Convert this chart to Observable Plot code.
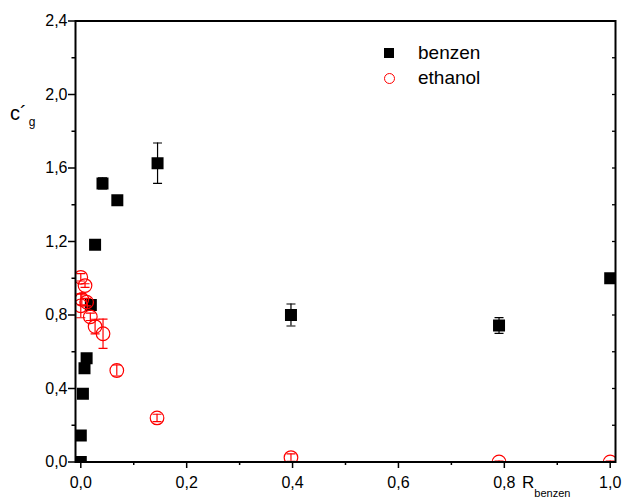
<!DOCTYPE html>
<html>
<head>
<meta charset="utf-8">
<script src="https://cdn.jsdelivr.net/npm/d3@7"></script>
<script src="https://cdn.jsdelivr.net/npm/@observablehq/plot@0.6"></script>
<style>
  html, body { margin: 0; padding: 0; background: #fff; }
  #wrap { position: relative; width: 622px; height: 499px; font-family: "Liberation Sans", Arial, sans-serif; }
  #wrap svg { position: absolute; left: 0; top: 0; }
  .lbl { position: absolute; color: #000; white-space: nowrap; line-height: 1; }
</style>
</head>
<body>
<div id="wrap"></div>
<script>
// ---- data ----
const benzenX   = [0, 0.0, 0.004, 0.007, 0.011, 0.019, 0.027, 0.041, 0.069, 0.145, 0.397, 0.79, 1.0];
const benzenY   = [0, 0.144, 0.371, 0.51, 0.565, 0.855, 1.182, 1.516, 1.425, 1.626, 0.80, 0.743, 1.0];
const benzenErr = [0, 0, 0, 0, 0, 0.025, 0, 0.03, 0.02, 0.11, 0.06, 0.043, 0];

const ethanolX   = [0, 0.008, 0.002, 0.011, 0.0, 0.018, 0.027, 0.042, 0.068, 0.144, 0.397, 0.79, 1.0];
const ethanolY   = [1.005, 0.96, 0.885, 0.87, 0.85, 0.79, 0.737, 0.698, 0.498, 0.24, 0.024, 0.0, 0.0];
const ethanolErr = [0.02, 0.01, 0.03, 0.02, 0.065, 0.02, 0.04, 0.08, 0.03, 0.02, 0.02, 0.005, 0.005];

const xMajorTicks = [0, 0.2, 0.4, 0.6, 0.8, 1.0];
const xMinorTicks = [0.1, 0.3, 0.5, 0.7, 0.9];
const yMajorTicks = [0, 0.4, 0.8, 1.2, 1.6, 2.0, 2.4];
const yMinorTicks = [0.2, 0.6, 1.0, 1.4, 1.8, 2.2];
const seriesNames = ["benzen", "ethanol"];

const toRows = (xs, ys, es) => xs.map((x, i) => ({x, y: ys[i], e: es[i]}));
const benzen = toRows(benzenX, benzenY, benzenErr);
const ethanol = toRows(ethanolX, ethanolY, ethanolErr);
const fmt = d => d.toFixed(1).replace(".", ",");

const capSymbol = {
  draw(context, size) {
    const w = Math.sqrt(size);
    context.moveTo(-w / 2, 0);
    context.lineTo(w / 2, 0);
  }
};
const inwardTick = {
  draw(context, size) {
    const w = Math.sqrt(size);
    context.moveTo(0, 0);
    context.lineTo(-w, 0);
  }
};
const capR = 9 / Math.sqrt(Math.PI);

function errMarks(rows, color) {
  const withErr = rows.filter(d => d.e > 0);
  return [
    Plot.ruleX(withErr, {x: "x", y1: d => d.y - d.e, y2: d => d.y + d.e, stroke: color, strokeWidth: 1.2, clip: true}),
    Plot.dot(withErr, {x: "x", y: d => d.y + d.e, symbol: capSymbol, r: capR, stroke: color, strokeWidth: 1.2, clip: true}),
    Plot.dot(withErr, {x: "x", y: d => d.y - d.e, symbol: capSymbol, r: capR, stroke: color, strokeWidth: 1.2, clip: true})
  ];
}

const chart = Plot.plot({
  width: 622,
  height: 499,
  marginLeft: 75,
  marginRight: 7,
  marginTop: 20.5,
  marginBottom: 37.5,
  style: {fontFamily: "'Liberation Sans', Arial, sans-serif", background: "#fff", color: "#000"},
  x: {domain: [-0.01, 1.01]},
  y: {domain: [0, 2.4]},
  marks: [
    Plot.axisX(xMinorTicks, {anchor: "bottom", label: null, tickSize: 3.5, tickFormat: () => "", strokeWidth: 1.5}),
    Plot.axisX(xMajorTicks, {anchor: "bottom", label: null, tickSize: 6.5, tickPadding: 8, tickFormat: fmt, fontSize: 16, strokeWidth: 1.5}),
    Plot.axisY(yMinorTicks, {anchor: "left", label: null, tickSize: 3.5, tickFormat: () => "", strokeWidth: 1.5}),
    Plot.axisY(yMajorTicks, {anchor: "left", label: null, tickSize: 7, tickPadding: 1, tickFormat: fmt, fontSize: 16, strokeWidth: 1.5}),
    Plot.dot([...yMajorTicks, ...yMinorTicks], {y: d => d, frameAnchor: "right", symbol: inwardTick, r: 3.5 / Math.sqrt(Math.PI), stroke: "#000", strokeWidth: 1.3}),
    // benzen
    ...errMarks(benzen, "#000"),
    Plot.dot(benzen, {x: "x", y: "y", symbol: "square", r: 12 / Math.sqrt(Math.PI), fill: "#000", clip: true}),
    // ethanol
    ...errMarks(ethanol, "#ff0000"),
    Plot.dot(ethanol, {x: "x", y: "y", r: 6.8, stroke: "#ff0000", strokeWidth: 1.2, fill: "none", clip: true}),
    Plot.frame({stroke: "#000", strokeWidth: 2})
  ]
});

const wrap = document.getElementById("wrap");
wrap.appendChild(chart);

function addLabel(html, left, top, extra) {
  const d = document.createElement("div");
  d.className = "lbl";
  d.innerHTML = html;
  d.style.left = left + "px";
  d.style.top = top + "px";
  Object.assign(d.style, extra || {});
  wrap.appendChild(d);
  return d;
}

// y label c´g
addLabel('<span style="font-size:20px">c´</span><sub style="font-size:12px;vertical-align:-6px;margin-left:2px">g</sub>', 10, 103);
// x label R benzen
addLabel('<span style="font-size:17px">R</span><sub style="font-size:11px;vertical-align:-9px">benzen</sub>', 522, 474);

// legend
const sq = document.createElement("div");
Object.assign(sq.style, {position: "absolute", left: "384px", top: "48px", width: "10px", height: "10px", background: "#000"});
wrap.appendChild(sq);
const ci = document.createElement("div");
Object.assign(ci.style, {position: "absolute", left: "383.5px", top: "72.5px", width: "9px", height: "9px", border: "1.2px solid #ff0000", borderRadius: "50%", boxSizing: "content-box"});
wrap.appendChild(ci);
addLabel(seriesNames[0], 418, 43, {fontSize: "19px"});
addLabel(seriesNames[1], 418, 68, {fontSize: "19px"});
</script>
</body>
</html>
